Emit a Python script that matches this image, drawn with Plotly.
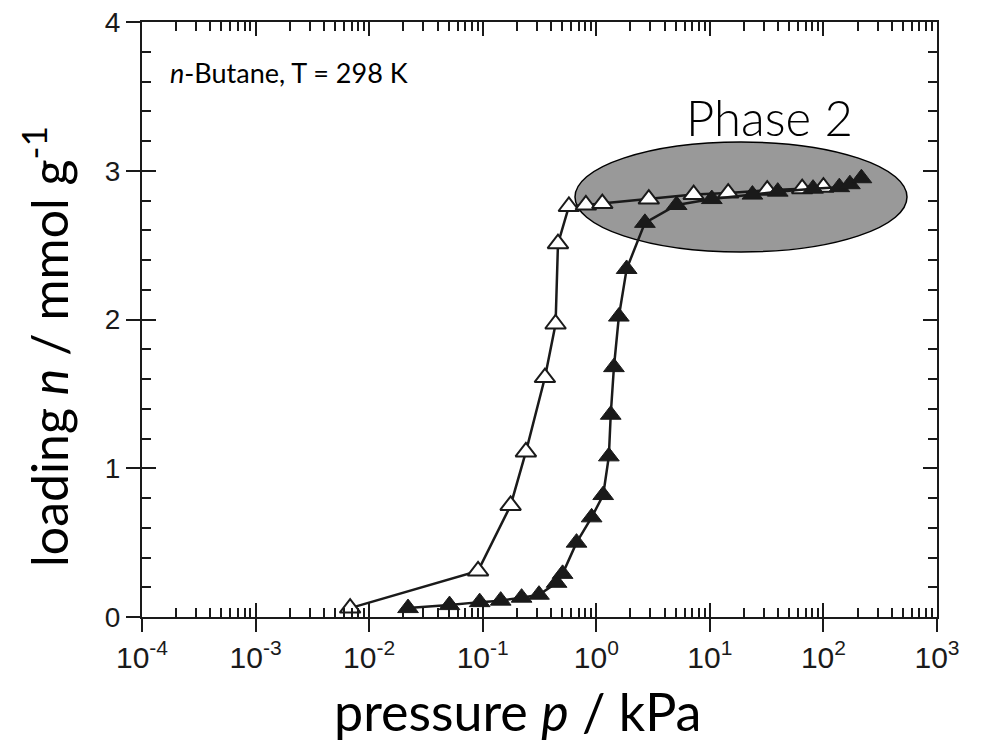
import plotly.graph_objects as go

# Desorption branch (open triangles): pressure in kPa, loading in mmol/g
open_p = [0.0068, 0.091, 0.176, 0.24, 0.353, 0.438, 0.46, 0.574, 0.81, 1.13, 2.9, 7.2, 14.5, 32, 65, 100]
open_n = [0.06, 0.31, 0.75, 1.11, 1.61, 1.97, 2.51, 2.76, 2.77, 2.78, 2.81, 2.84, 2.85, 2.87, 2.88, 2.89]

# Adsorption branch (filled triangles)
filled_p = [0.022, 0.051, 0.094, 0.144, 0.22, 0.313, 0.447, 0.505, 0.67, 0.91, 1.15, 1.29, 1.34,
            1.43, 1.58, 1.85, 2.68, 5.1, 10.4, 23.7, 39.6, 81, 138, 171, 216]
filled_n = [0.06, 0.08, 0.10, 0.11, 0.13, 0.15, 0.23, 0.29, 0.50, 0.67, 0.82, 1.08, 1.36,
            1.68, 2.02, 2.34, 2.65, 2.77, 2.81, 2.84, 2.86, 2.88, 2.89, 2.91, 2.95]

x_tickvals = [1e-4, 1e-3, 1e-2, 1e-1, 1e0, 1e1, 1e2, 1e3]
x_ticktext = ["10<sup>-4</sup>", "10<sup>-3</sup>", "10<sup>-2</sup>", "10<sup>-1</sup>",
              "10<sup>0</sup>", "10<sup>1</sup>", "10<sup>2</sup>", "10<sup>3</sup>"]
y_tickvals = [0, 1, 2, 3, 4]
y_ticktext = ["0", "1", "2", "3", "4"]

x_title = "pressure <i>p</i> / kPa"
y_title = "loading <i>n</i> / mmol g<sup>-1</sup>"

INK = "#1a1a1a"
OFF = 8  # default page body margin of the html page
W, H = 979, 741
# plot area in page pixels: left 142, right 937, top 22, bottom 617
PL, PR, PT, PB = 142, 937, 22, 617
ML, MT = PL - OFF, PT - OFF
MR, MB = OFF + W - PR, OFF + H - PB
YR = [0, 4.0005]

fig = go.Figure()
fig.add_trace(go.Scatter(
    x=open_p, y=open_n, mode="lines+markers", name="desorption",
    line=dict(color=INK, width=2.5),
    marker=dict(symbol="triangle-up", size=18, color="white", line=dict(color=INK, width=2)),
))
fig.add_trace(go.Scatter(
    x=filled_p, y=filled_n, mode="lines+markers", name="adsorption",
    line=dict(color=INK, width=2.5),
    marker=dict(symbol="triangle-up", size=18, color=INK, line=dict(color=INK, width=1)),
))

fam = "Lato, Calibri, sans-serif"

fig.update_layout(
    template="none",
    width=W, height=H,
    margin=dict(l=ML, r=MR, t=MT, b=MB, pad=0),
    paper_bgcolor="white", plot_bgcolor="white",
    showlegend=False,
    xaxis=dict(
        type="log", range=[-4, 3], tickmode="array", tickvals=x_tickvals, ticktext=x_ticktext,
        ticks="outside", ticklen=13, tickwidth=2, tickcolor=INK, automargin=False,
        ticklabeloverflow="allow",
        showline=True, linecolor=INK, linewidth=2, mirror=False,
        showgrid=False, zeroline=False,
        tickfont=dict(family="Liberation Sans, Arial, sans-serif", size=30, color=INK),
    ),
    yaxis=dict(
        range=YR, tickmode="array", tickvals=y_tickvals, ticktext=y_ticktext,
        ticks="outside", ticklen=14, tickwidth=2, tickcolor=INK, automargin=False,
        ticklabeloverflow="allow",
        showline=True, linecolor=INK, linewidth=2, mirror=False,
        showgrid=False, zeroline=False,
        tickfont=dict(family="Liberation Sans, Arial, sans-serif", size=28, color=INK),
    ),
    xaxis2=dict(
        type="log", range=[-4, 3], overlaying="x", anchor="y", side="bottom",
        tickmode="linear", tick0=0, dtick=1, automargin=False,
        ticks="inside", ticklen=14, tickwidth=2, tickcolor=INK,
        minor=dict(ticks="inside", ticklen=9, tickwidth=1.5, tickcolor=INK, dtick="D1", showgrid=False),
        showticklabels=False, showline=True, linecolor=INK, linewidth=2, mirror="allticks",
        showgrid=False, zeroline=False,
    ),
    yaxis2=dict(
        range=YR, overlaying="y", anchor="x", side="left",
        tickmode="linear", tick0=0, dtick=1, automargin=False,
        ticks="inside", ticklen=14, tickwidth=2, tickcolor=INK,
        minor=dict(ticks="inside", ticklen=9, tickwidth=1.5, tickcolor=INK, dtick=0.2, showgrid=False),
        showticklabels=False, showline=True, linecolor=INK, linewidth=2, mirror="allticks",
        showgrid=False, zeroline=False,
    ),
)

# invisible helper trace so the overlay axes are drawn
fig.add_trace(go.Scatter(x=[1e-4, 1e3], y=[0, 4], xaxis="x2", yaxis="y2", mode="markers",
                         marker=dict(opacity=0), hoverinfo="skip", showlegend=False))

def px(xp):
    return (xp - PL) / (PR - PL)

def py(yp):
    return (PB - yp) / (PB - PT)

# axis titles
fig.add_annotation(xref="paper", yref="paper", x=px(517), y=py(711), xanchor="center", yanchor="middle",
                   text=x_title, showarrow=False, font=dict(family=fam, size=52, color="black"))
fig.add_annotation(xref="paper", yref="paper", x=px(45), y=py(347), xanchor="center", yanchor="middle",
                   text=y_title, showarrow=False, textangle=-90,
                   font=dict(family=fam, size=50, color="black"))

# Phase 2 ellipse (decoration, paper coordinates)
fig.add_shape(type="circle", xref="paper", yref="paper",
              x0=px(575), x1=px(907), y0=py(252), y1=py(142),
              fillcolor="#999999", line=dict(color="black", width=1.5), layer="below")

fig.add_annotation(xref="paper", yref="paper", x=px(168), y=py(72), xanchor="left", yanchor="middle",
                   text="<i>n</i>-Butane, T = 298 K", showarrow=False,
                   font=dict(family=fam, size=27, color="black"))
fig.add_annotation(xref="paper", yref="paper", x=px(769), y=py(117), xanchor="center", yanchor="middle",
                   text="Phase 2", showarrow=False,
                   font=dict(family=fam, size=49, color="black", weight=300))

fig.write_html("out.html")
